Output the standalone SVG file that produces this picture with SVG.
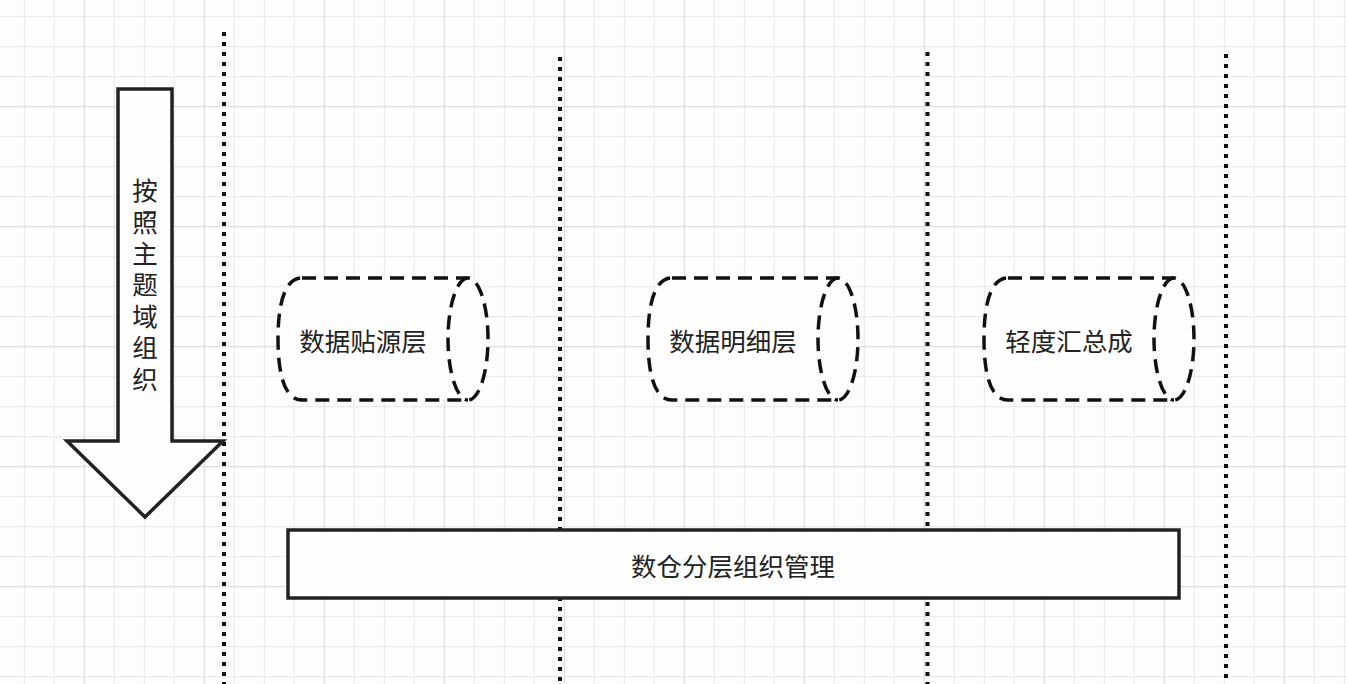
<svg xmlns="http://www.w3.org/2000/svg" width="1346" height="684" viewBox="0 0 1346 684">
  <defs>
    <pattern id="grid" patternUnits="userSpaceOnUse" x="83.8" y="106.2" width="120" height="120">
      <path d="M30.5 0V120M60.5 0V120M90.5 0V120M0 30.5H120M0 60.5H120M0 90.5H120" stroke="#e6e6ea" stroke-width="1" fill="none"/>
      <path d="M0.5 0V120M0 0.5H120" stroke="#d6d6da" stroke-width="1" fill="none"/>
    </pattern>
    <style>
      .lbl{font-family:"Noto Sans CJK SC","Noto Sans",sans-serif;font-size:25.5px;fill:#222;text-anchor:middle;dominant-baseline:central}
      .cyl{fill:#fefefe;stroke:#111;stroke-width:3.5;stroke-dasharray:14 8;stroke-linecap:butt}
      .cylin{fill:none;stroke:#111;stroke-width:3.5;stroke-dasharray:14 8}
      .solid{fill:#fefefe;stroke:#222;stroke-width:3.5;stroke-linejoin:miter}
      .dots{stroke:#111;stroke-width:4;stroke-dasharray:4 6;fill:none}
    </style>
  </defs>
  <rect width="1346" height="684" fill="#fdfdfd"/>
  <rect width="1346" height="684" fill="url(#grid)"/>

  <g id="dividers">
    <line class="dots" x1="224" y1="32" x2="224" y2="684"/>
    <line class="dots" x1="560" y1="57" x2="560" y2="684"/>
    <line class="dots" x1="927.5" y1="52" x2="927.5" y2="684"/>
    <line class="dots" x1="1226" y1="54" x2="1226" y2="684"/>
  </g>

  <g id="arrow-topic">
    <polygon class="solid" points="118,89 172,89 172,441 223,441 145,517 67,441 118,441"/>
    <text class="lbl" x="145" y="188">按</text>
    <text class="lbl" x="145" y="220">照</text>
    <text class="lbl" x="145" y="251">主</text>
    <text class="lbl" x="145" y="282">题</text>
    <text class="lbl" x="145" y="314">域</text>
    <text class="lbl" x="145" y="345">组</text>
    <text class="lbl" x="145" y="377">织</text>
  </g>

  <g id="cyl-ods">
    <path class="cyl" d="M302 278H468A20 61 0 0 1 468 400H302C286 400 278 378 278 339C278 300 286 278 302 278Z"/>
    <path class="cylin" d="M468 278A20 61 0 0 0 468 400"/>
    <text class="lbl" x="363" y="339">数据贴源层</text>
  </g>

  <g id="cyl-dwd">
    <path class="cyl" d="M672 278H838A20 61 0 0 1 838 400H672C656 400 648 378 648 339C648 300 656 278 672 278Z"/>
    <path class="cylin" d="M838 278A20 61 0 0 0 838 400"/>
    <text class="lbl" x="733" y="339">数据明细层</text>
  </g>

  <g id="cyl-dws">
    <path class="cyl" d="M1008 278H1174A20 61 0 0 1 1174 400H1008C992 400 984 378 984 339C984 300 992 278 1008 278Z"/>
    <path class="cylin" d="M1174 278A20 61 0 0 0 1174 400"/>
    <text class="lbl" x="1069" y="339">轻度汇总成</text>
  </g>

  <g id="layer-mgmt">
    <rect class="solid" x="288" y="530" width="891" height="68"/>
    <text class="lbl" x="733" y="564">数仓分层组织管理</text>
  </g>
</svg>
